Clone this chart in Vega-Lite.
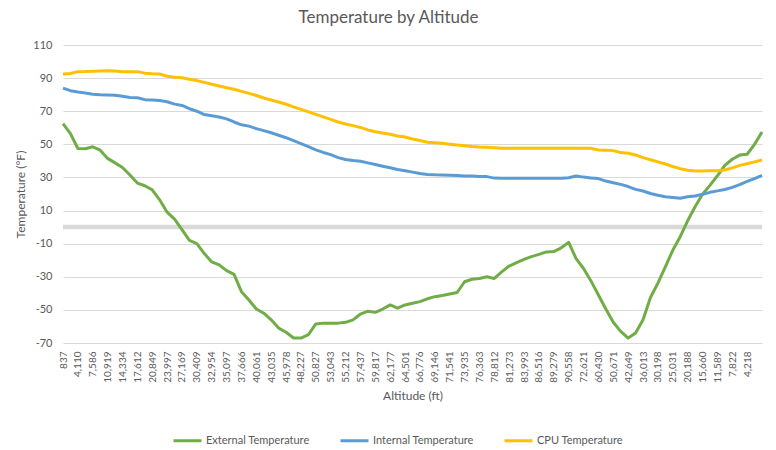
{
  "$schema": "https://vega.github.io/schema/vega-lite/v6.json",
  "width": 699,
  "height": 298,
  "autosize": {"type": "none"},
  "padding": {"left": 63, "top": 45, "right": 14, "bottom": 107},
  "background": "white",
  "config": {"view": {"stroke": null}, "font": "Lato"},
  "title": {"text": "Temperature by Altitude", "fontSize": 17, "font": "Lato", "fontWeight": "normal", "color": "#595959", "dx": -24, "offset": 12},
  "layer": [
    {
      "data": {"values": [{"zero": 0}]},
      "mark": {"type": "rule", "color": "#d9d9d9", "strokeWidth": 4.5},
      "encoding": {"y": {"field": "zero", "type": "quantitative",
          "scale": {"domain": [-70, 110], "nice": false, "zero": false},
          "axis": {
            "title": "Temperature (°F)",
            "values": [-70, -50, -30, -10, 10, 30, 50, 70, 90, 110],
            "labelExpr": "'' + datum.value",
            "domain": false, "ticks": false, "grid": true, "gridColor": "#d9d9d9", "gridWidth": 1,
            "labelColor": "#595959", "labelFontSize": 11, "labelPadding": 11,
            "titleColor": "#595959", "titleFontSize": 12, "titleFontWeight": "normal", "titlePadding": 5
          }}}
    },
    {
      "data": {"values": [
        {"alt": "837", "External Temperature": 62.5, "Internal Temperature": 84, "CPU Temperature": 92.5},
        {"alt": "2,474", "External Temperature": 56.5, "Internal Temperature": 82.4, "CPU Temperature": 92.8},
        {"alt": "4,110", "External Temperature": 47.5, "Internal Temperature": 81.6, "CPU Temperature": 93.9},
        {"alt": "5,848", "External Temperature": 47.3, "Internal Temperature": 81, "CPU Temperature": 94},
        {"alt": "7,586", "External Temperature": 48.5, "Internal Temperature": 80.3, "CPU Temperature": 94.2},
        {"alt": "9,253", "External Temperature": 46.5, "Internal Temperature": 80, "CPU Temperature": 94.3},
        {"alt": "10,919", "External Temperature": 41.5, "Internal Temperature": 79.8, "CPU Temperature": 94.5},
        {"alt": "12,627", "External Temperature": 38.8, "Internal Temperature": 79.6, "CPU Temperature": 94.3},
        {"alt": "14,334", "External Temperature": 36, "Internal Temperature": 79, "CPU Temperature": 93.9},
        {"alt": "15,973", "External Temperature": 31.5, "Internal Temperature": 78.3, "CPU Temperature": 93.9},
        {"alt": "17,612", "External Temperature": 26.6, "Internal Temperature": 78.1, "CPU Temperature": 93.9},
        {"alt": "19,231", "External Temperature": 25, "Internal Temperature": 77, "CPU Temperature": 93},
        {"alt": "20,849", "External Temperature": 22.5, "Internal Temperature": 76.8, "CPU Temperature": 92.6},
        {"alt": "22,423", "External Temperature": 16.5, "Internal Temperature": 76.5, "CPU Temperature": 92.5},
        {"alt": "23,997", "External Temperature": 9, "Internal Temperature": 75.7, "CPU Temperature": 91.1},
        {"alt": "25,583", "External Temperature": 4.8, "Internal Temperature": 74.3, "CPU Temperature": 90.6},
        {"alt": "27,169", "External Temperature": -1.5, "Internal Temperature": 73.5, "CPU Temperature": 90.2},
        {"alt": "28,789", "External Temperature": -8, "Internal Temperature": 71.5, "CPU Temperature": 89.3},
        {"alt": "30,409", "External Temperature": -10, "Internal Temperature": 70, "CPU Temperature": 88.5},
        {"alt": "31,682", "External Temperature": -16, "Internal Temperature": 68, "CPU Temperature": 87.4},
        {"alt": "32,954", "External Temperature": -21, "Internal Temperature": 67.3, "CPU Temperature": 86.3},
        {"alt": "34,026", "External Temperature": -22.8, "Internal Temperature": 66.5, "CPU Temperature": 85.2},
        {"alt": "35,097", "External Temperature": -26.3, "Internal Temperature": 65.4, "CPU Temperature": 84.2},
        {"alt": "36,382", "External Temperature": -28.5, "Internal Temperature": 63.5, "CPU Temperature": 83.3},
        {"alt": "37,666", "External Temperature": -39, "Internal Temperature": 61.8, "CPU Temperature": 82},
        {"alt": "38,864", "External Temperature": -44, "Internal Temperature": 61, "CPU Temperature": 80.8},
        {"alt": "40,061", "External Temperature": -49.5, "Internal Temperature": 59.5, "CPU Temperature": 79.5},
        {"alt": "41,548", "External Temperature": -52, "Internal Temperature": 58.3, "CPU Temperature": 78},
        {"alt": "43,035", "External Temperature": -56, "Internal Temperature": 57, "CPU Temperature": 76.8},
        {"alt": "44,507", "External Temperature": -61, "Internal Temperature": 55.5, "CPU Temperature": 75.6},
        {"alt": "45,978", "External Temperature": -63.5, "Internal Temperature": 54, "CPU Temperature": 74.2},
        {"alt": "47,103", "External Temperature": -67, "Internal Temperature": 52.2, "CPU Temperature": 72.6},
        {"alt": "48,227", "External Temperature": -67, "Internal Temperature": 50.4, "CPU Temperature": 71.1},
        {"alt": "49,527", "External Temperature": -65, "Internal Temperature": 48.6, "CPU Temperature": 69.6},
        {"alt": "50,827", "External Temperature": -58.5, "Internal Temperature": 46.7, "CPU Temperature": 68.1},
        {"alt": "51,935", "External Temperature": -58, "Internal Temperature": 45.1, "CPU Temperature": 66.6},
        {"alt": "53,043", "External Temperature": -58, "Internal Temperature": 43.8, "CPU Temperature": 65.1},
        {"alt": "54,128", "External Temperature": -58, "Internal Temperature": 42, "CPU Temperature": 63.5},
        {"alt": "55,212", "External Temperature": -57.5, "Internal Temperature": 40.8, "CPU Temperature": 62.3},
        {"alt": "56,325", "External Temperature": -56, "Internal Temperature": 40.2, "CPU Temperature": 61.3},
        {"alt": "57,437", "External Temperature": -52.5, "Internal Temperature": 39.8, "CPU Temperature": 60.2},
        {"alt": "58,627", "External Temperature": -50.8, "Internal Temperature": 38.8, "CPU Temperature": 58.7},
        {"alt": "59,817", "External Temperature": -51.5, "Internal Temperature": 37.8, "CPU Temperature": 57.6},
        {"alt": "60,997", "External Temperature": -49.5, "Internal Temperature": 36.8, "CPU Temperature": 56.8},
        {"alt": "62,177", "External Temperature": -47, "Internal Temperature": 35.9, "CPU Temperature": 56.1},
        {"alt": "63,339", "External Temperature": -49, "Internal Temperature": 34.8, "CPU Temperature": 55},
        {"alt": "64,501", "External Temperature": -47, "Internal Temperature": 34, "CPU Temperature": 54.4},
        {"alt": "65,639", "External Temperature": -46, "Internal Temperature": 33.2, "CPU Temperature": 53.2},
        {"alt": "66,776", "External Temperature": -45, "Internal Temperature": 32.4, "CPU Temperature": 52.3},
        {"alt": "67,961", "External Temperature": -43.3, "Internal Temperature": 31.8, "CPU Temperature": 51.3},
        {"alt": "69,146", "External Temperature": -42, "Internal Temperature": 31.6, "CPU Temperature": 50.9},
        {"alt": "70,344", "External Temperature": -41.3, "Internal Temperature": 31.5, "CPU Temperature": 50.6},
        {"alt": "71,541", "External Temperature": -40.4, "Internal Temperature": 31.3, "CPU Temperature": 50.1},
        {"alt": "72,738", "External Temperature": -39.5, "Internal Temperature": 31.1, "CPU Temperature": 49.6},
        {"alt": "73,935", "External Temperature": -33, "Internal Temperature": 30.9, "CPU Temperature": 49.1},
        {"alt": "75,149", "External Temperature": -31.5, "Internal Temperature": 30.8, "CPU Temperature": 48.7},
        {"alt": "76,363", "External Temperature": -31, "Internal Temperature": 30.6, "CPU Temperature": 48.4},
        {"alt": "77,588", "External Temperature": -30, "Internal Temperature": 30.5, "CPU Temperature": 48.2},
        {"alt": "78,812", "External Temperature": -31, "Internal Temperature": 29.6, "CPU Temperature": 47.9},
        {"alt": "80,043", "External Temperature": -27, "Internal Temperature": 29.5, "CPU Temperature": 47.6},
        {"alt": "81,273", "External Temperature": -23.5, "Internal Temperature": 29.5, "CPU Temperature": 47.6},
        {"alt": "82,633", "External Temperature": -21.5, "Internal Temperature": 29.5, "CPU Temperature": 47.6},
        {"alt": "83,993", "External Temperature": -19.5, "Internal Temperature": 29.5, "CPU Temperature": 47.6},
        {"alt": "85,255", "External Temperature": -17.8, "Internal Temperature": 29.5, "CPU Temperature": 47.6},
        {"alt": "86,516", "External Temperature": -16.5, "Internal Temperature": 29.5, "CPU Temperature": 47.6},
        {"alt": "87,898", "External Temperature": -15, "Internal Temperature": 29.5, "CPU Temperature": 47.6},
        {"alt": "89,279", "External Temperature": -14.8, "Internal Temperature": 29.5, "CPU Temperature": 47.6},
        {"alt": "89,919", "External Temperature": -12.5, "Internal Temperature": 29.5, "CPU Temperature": 47.6},
        {"alt": "90,558", "External Temperature": -9.2, "Internal Temperature": 29.8, "CPU Temperature": 47.6},
        {"alt": "81,590", "External Temperature": -19, "Internal Temperature": 30.9, "CPU Temperature": 47.6},
        {"alt": "72,621", "External Temperature": -25, "Internal Temperature": 30.2, "CPU Temperature": 47.6},
        {"alt": "66,526", "External Temperature": -32.5, "Internal Temperature": 29.7, "CPU Temperature": 47.6},
        {"alt": "60,430", "External Temperature": -41, "Internal Temperature": 29.3, "CPU Temperature": 46.6},
        {"alt": "55,551", "External Temperature": -49.5, "Internal Temperature": 27.8, "CPU Temperature": 46.5},
        {"alt": "50,671", "External Temperature": -57.5, "Internal Temperature": 26.8, "CPU Temperature": 46.2},
        {"alt": "46,660", "External Temperature": -63, "Internal Temperature": 25.8, "CPU Temperature": 45},
        {"alt": "42,649", "External Temperature": -67, "Internal Temperature": 24.5, "CPU Temperature": 44.6},
        {"alt": "39,331", "External Temperature": -64, "Internal Temperature": 22.8, "CPU Temperature": 43.6},
        {"alt": "36,013", "External Temperature": -56, "Internal Temperature": 21.8, "CPU Temperature": 42},
        {"alt": "33,106", "External Temperature": -42.5, "Internal Temperature": 20.3, "CPU Temperature": 40.7},
        {"alt": "30,198", "External Temperature": -33.8, "Internal Temperature": 19.2, "CPU Temperature": 39.4},
        {"alt": "27,615", "External Temperature": -24, "Internal Temperature": 18.4, "CPU Temperature": 38.1},
        {"alt": "25,031", "External Temperature": -14, "Internal Temperature": 17.9, "CPU Temperature": 36.6},
        {"alt": "22,610", "External Temperature": -5.8, "Internal Temperature": 17.4, "CPU Temperature": 35.3},
        {"alt": "20,188", "External Temperature": 3.8, "Internal Temperature": 18.3, "CPU Temperature": 34.4},
        {"alt": "17,924", "External Temperature": 12.3, "Internal Temperature": 18.8, "CPU Temperature": 33.9},
        {"alt": "15,660", "External Temperature": 19.8, "Internal Temperature": 19.8, "CPU Temperature": 33.9},
        {"alt": "13,625", "External Temperature": 25.2, "Internal Temperature": 21, "CPU Temperature": 34},
        {"alt": "11,589", "External Temperature": 31, "Internal Temperature": 21.9, "CPU Temperature": 34.1},
        {"alt": "9,706", "External Temperature": 37.3, "Internal Temperature": 22.7, "CPU Temperature": 34.5},
        {"alt": "7,822", "External Temperature": 41, "Internal Temperature": 24, "CPU Temperature": 35.8},
        {"alt": "6,020", "External Temperature": 43.5, "Internal Temperature": 25.7, "CPU Temperature": 37.3},
        {"alt": "4,218", "External Temperature": 44, "Internal Temperature": 27.6, "CPU Temperature": 38.3},
        {"alt": "2,390", "External Temperature": 50, "Internal Temperature": 29.3, "CPU Temperature": 39.4},
        {"alt": "615", "External Temperature": 57.5, "Internal Temperature": 31.2, "CPU Temperature": 40.5}
      ]},
      "transform": [{"fold": ["External Temperature", "Internal Temperature", "CPU Temperature"], "as": ["series", "temp"]}],
      "mark": {"type": "line", "strokeWidth": 3, "strokeJoin": "round"},
      "encoding": {
        "x": {
          "field": "alt", "type": "nominal", "sort": null,
          "scale": {"type": "point", "padding": 0},
          "axis": {
            "title": "Altitude (ft)",
            "values": ["837","4,110","7,586","10,919","14,334","17,612","20,849","23,997","27,169","30,409","32,954","35,097","37,666","40,061","43,035","45,978","48,227","50,827","53,043","55,212","57,437","59,817","62,177","64,501","66,776","69,146","71,541","73,935","76,363","78,812","81,273","83,993","86,516","89,279","90,558","72,621","60,430","50,671","42,649","36,013","30,198","25,031","20,188","15,660","11,589","7,822","4,218"],
            "labelAngle": -90, "labelOverlap": false, "domain": false, "ticks": false, "grid": false,
            "labelColor": "#595959", "labelFontSize": 10, "labelPadding": 8,
            "titleColor": "#595959", "titleFontSize": 12, "titleFontWeight": "normal", "titlePadding": 8
          }
        },
        "y": {
          "field": "temp", "type": "quantitative",
          "scale": {"domain": [-70, 110], "nice": false, "zero": false},
          "axis": {
            "title": "Temperature (°F)",
            "values": [-70, -50, -30, -10, 10, 30, 50, 70, 90, 110],
            "labelExpr": "'' + datum.value",
            "domain": false, "ticks": false, "grid": true, "gridColor": "#d9d9d9", "gridWidth": 1,
            "labelColor": "#595959", "labelFontSize": 11, "labelPadding": 11,
            "titleColor": "#595959", "titleFontSize": 12, "titleFontWeight": "normal", "titlePadding": 5
          }
        },
        "color": {
          "field": "series", "type": "nominal",
          "scale": {"domain": ["External Temperature", "Internal Temperature", "CPU Temperature"], "range": ["#70AD47", "#5B9BD5", "#FFC000"]},
          "legend": {
            "orient": "none", "legendX": 109, "legendY": 380, "direction": "horizontal", "title": null,
            "symbolType": "stroke", "symbolSize": 784, "symbolStrokeWidth": 3,
            "labelColor": "#595959", "labelFontSize": 11, "labelOffset": 3, "columnPadding": 24
          }
        }
      }
    }
  ]
}
